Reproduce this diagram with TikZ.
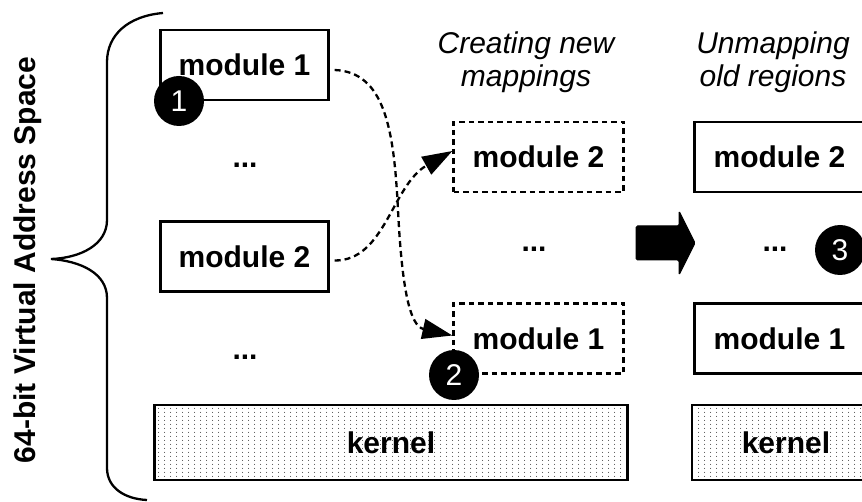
\documentclass[tikz,border=0pt]{standalone}
\usepackage{fontspec}
\setmainfont{Liberation Sans}
\usetikzlibrary{arrows.meta,patterns.meta,calc}
\tikzdeclarepattern{
  name=kdots,
  type=colored,
  bottom left={(0pt,0pt)},
  top right={(6pt,4pt)},
  tile size={(6pt,4pt)},
  code={\fill[black!75] (3pt,2pt) circle (0.6pt);}
}
\begin{document}
\begin{tikzpicture}[x=1pt,y=-1pt,
  lbl/.style={font=\fontsize{30}{33}\selectfont\bfseries},
  head/.style={font=\fontsize{30}{33}\selectfont\itshape,align=center,inner sep=0pt,anchor=north},
  modbox/.style={draw,line width=2.3pt,minimum width=168pt,minimum height=70pt,inner sep=0pt,lbl},
  newbox/.style={modbox,dash pattern=on 5.5pt off 4pt,minimum width=170pt},
  kbox/.style={draw,line width=2.6pt,pattern=kdots,minimum height=75pt,inner sep=0pt,lbl},
  dotsl/.style={inner sep=0pt,lbl},
  stepno/.style={circle,fill=black,minimum size=50pt,inner sep=0pt,text=white,font=\fontsize{30}{33}\selectfont},
  conn/.style={line width=2.3pt,dash pattern=on 6pt off 4pt,-{Triangle[length=30pt,width=20pt]}},
]
\useasboundingbox (0,0) rectangle (862,502);
\clip (0,0) rectangle (862,502);

% side label and brace
\node[lbl,rotate=90,anchor=base,inner sep=0pt] (vas) at (35,260) {64-bit Virtual Address Space};
\draw[line width=2.3pt] (163,13) .. controls (128,16) and (107,35) .. (107,62)
  -- (107,220) .. controls (107,245) and (80,258) .. (51,259)
  .. controls (80,261) and (107,273) .. (107,298)
  -- (107,468) .. controls (107,488) and (125,499) .. (147,500);

% left column
\node[modbox] (m1L) at (244.5,65) {module 1};
\node[dotsl] (d1L) at (245,165) {...};
\node[modbox] (m2L) at (244.5,256.5) {module 2};
\node[dotsl] (d2L) at (245,357) {...};
\node[kbox,minimum width=473pt] (kL) at (391,442.5) {kernel};

% middle column
\node[head] (hM) at (526,32) {Creating new\\mappings};
\node[newbox] (m2M) at (538.5,157) {module 2};
\node[dotsl] (dM) at (534,249) {...};
\node[newbox] (m1M) at (538.5,338.5) {module 1};

% right column
\node[head] (hR) at (773,32) {Unmapping\\old regions};
\node[modbox,minimum width=170pt] (m2R) at (779.5,157) {module 2};
\node[dotsl] (dR) at (775,249) {...};
\node[modbox,minimum width=170pt] (m1R) at (779.5,338.5) {module 1};
\node[kbox,minimum width=188pt] (kR) at (786,442.5) {kernel};

% big arrow
\draw[fill=black,line width=1pt,rounded corners=1.5pt]
  (636,226) -- (679,226) -- (679,211) -- (695,243) -- (679,275) -- (679,260) -- (636,260) -- cycle;

% connectors
\coordinate (via1) at (398,210);
\draw[conn] ([shift={(5,5)}]m1L.east) .. controls (385,72) and (394,130) .. (via1)
  .. controls (402,290) and (410,326) .. ([yshift=3]m1M.west);
\draw[conn] ([shift={(5,4)}]m2L.east) .. controls (385,261) and (392,185) .. ([yshift=6]m2M.west);

% step markers
\node[stepno] (s1) at (179,101) {1};
\node[stepno] (s2) at (454,375) {2};
\node[stepno] (s3) at (840,250) {3};
\end{tikzpicture}
\end{document}
